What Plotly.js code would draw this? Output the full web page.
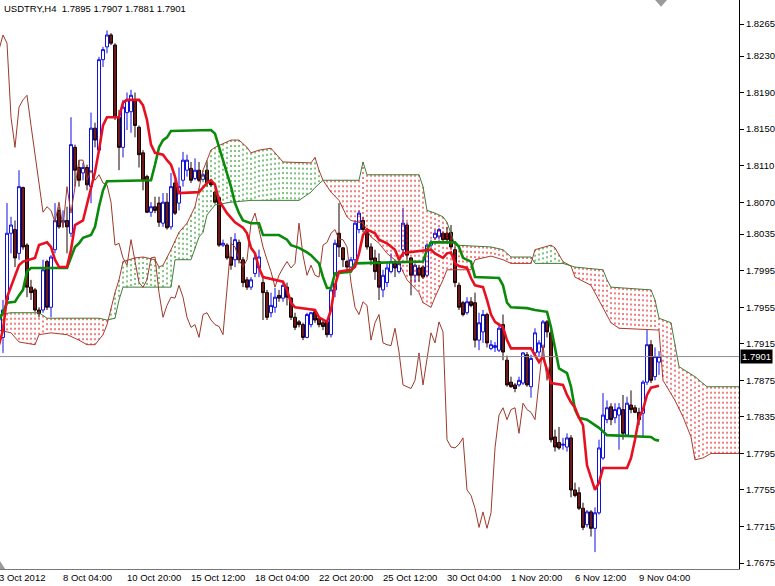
<!DOCTYPE html>
<html>
<head>
<meta charset="utf-8">
<script src="https://cdn.plot.ly/plotly-3.0.1.min.js"></script>
<style>html,body{margin:0;padding:0;background:#fff;}#chart{width:775px;height:586px;}</style>
</head>
<body>
<div id="chart"></div>
<script>
// ---- Data (USDTRY, H4) ----
const symbolName = 'USDTRY,H4';
const xTickLabels = ['3 Oct 2012','8 Oct 04:00','10 Oct 20:00','15 Oct 12:00','18 Oct 04:00','22 Oct 20:00','25 Oct 12:00','30 Oct 04:00','1 Nov 20:00','6 Nov 12:00','9 Nov 04:00'];
const xTickBars = [-1,15,31,47,63,79,95,111,127,143,159];
const yTickLabels = ['1.8265','1.8230','1.8190','1.8150','1.8110','1.8070','1.8035','1.7995','1.7955','1.7915','1.7875','1.7835','1.7795','1.7755','1.7715','1.7675'];

const openP = [
1.7922,1.7963,1.8036,1.8040,1.8014,1.8086,1.8023,1.7977,1.7974,1.7952,
1.7952,1.8005,1.7955,1.8018,1.8061,1.8048,1.8050,1.8036,1.8130,1.8108,
1.8102,1.8108,1.8087,1.8151,1.8127,1.8226,1.8240,1.8253,1.8242,1.8163,
1.8130,1.8168,1.8169,1.8182,1.8152,1.8124,1.8098,1.8059,1.8065,1.8069,
1.8047,1.8070,1.8043,1.8091,1.8069,1.8094,1.8105,1.8107,1.8096,1.8105,
1.8095,1.8105,1.8092,1.8081,1.8075,1.8023,1.8023,1.8010,1.8007,1.8026,
1.8007,1.7985,1.7977,1.7992,1.7998,1.7982,1.7971,1.7949,1.7955,1.7968,
1.7965,1.7977,1.7965,1.7944,1.7939,1.7936,1.7922,1.7936,1.7950,1.7943,
1.7938,1.7939,1.7925,1.7974,1.8036,1.8020,1.8005,1.7999,1.8007,1.8040,
1.8050,1.8040,1.8021,1.8009,1.8005,1.7974,1.7982,1.7994,1.8003,1.7994,
1.8018,1.8045,1.8009,1.7990,1.7998,1.7999,1.7990,1.8023,1.8031,1.8032,
1.8036,1.8036,1.8037,1.8018,1.7979,1.7960,1.7949,1.7961,1.7960,1.7919,
1.7928,1.7947,1.7910,1.7911,1.7908,1.7936,1.7897,1.7873,1.7870,1.7870,
1.7872,1.7903,1.7868,1.7905,1.7906,1.7911,1.7939,1.7927,1.7813,1.7807,
1.7804,1.7802,1.7812,1.7755,1.7752,1.7735,1.7717,1.7731,1.7713,1.7730,
1.7790,1.7832,1.7846,1.7834,1.7837,1.7843,1.7815,1.7848,1.7845,1.7840,
1.7839,1.7873,1.7914,1.7879,1.7895];
const highP = [
1.7963,1.8069,1.8054,1.8050,1.8105,1.8087,1.8025,1.7985,1.7976,1.7955,
1.8007,1.8007,1.8012,1.8069,1.8065,1.8061,1.8065,1.8163,1.8133,1.8116,
1.8113,1.8111,1.8168,1.8157,1.8229,1.8240,1.8258,1.8255,1.8244,1.8171,
1.8182,1.8190,1.8193,1.8190,1.8154,1.8127,1.8100,1.8070,1.8076,1.8076,
1.8080,1.8080,1.8102,1.8094,1.8108,1.8125,1.8122,1.8114,1.8118,1.8114,
1.8102,1.8114,1.8094,1.8083,1.8076,1.8029,1.8025,1.8032,1.8036,1.8029,
1.8010,1.7988,1.7988,1.8012,1.8018,1.7988,1.7974,1.7971,1.7976,1.7974,
1.7982,1.7982,1.7966,1.7949,1.7941,1.7938,1.7949,1.7950,1.7952,1.7944,
1.7941,1.7941,1.7976,1.8029,1.8069,1.8021,1.8007,1.8010,1.8050,1.8061,
1.8054,1.8042,1.8025,1.8018,1.8014,1.7996,1.8003,1.8014,1.8007,1.8010,
1.8064,1.8048,1.8010,1.8003,1.8001,1.8001,1.8025,1.8029,1.8040,1.8042,
1.8038,1.8043,1.8045,1.8021,1.7982,1.7962,1.7966,1.7966,1.7971,1.7949,
1.7952,1.7949,1.7919,1.7917,1.7938,1.7947,1.7902,1.7879,1.7872,1.7879,
1.7906,1.7906,1.7903,1.7932,1.7919,1.7941,1.7941,1.7930,1.7821,1.7824,
1.7812,1.7817,1.7815,1.7763,1.7758,1.7741,1.7733,1.7733,1.7736,1.7810,
1.7861,1.7853,1.7850,1.7850,1.7850,1.7859,1.7857,1.7864,1.7848,1.7845,
1.7875,1.7930,1.7919,1.7911,1.7907];
const lowP = [
1.7905,1.7960,1.8014,1.7999,1.8007,1.8018,1.7966,1.7963,1.7950,1.7944,
1.7949,1.7952,1.7944,1.8014,1.8041,1.8043,1.8014,1.8032,1.8087,1.8087,
1.8094,1.8083,1.8069,1.8130,1.8124,1.8218,1.8233,1.8242,1.8160,1.8105,
1.8119,1.8149,1.8146,1.8141,1.8108,1.8083,1.8058,1.8054,1.8058,1.8043,
1.8043,1.8040,1.8040,1.8056,1.8061,1.8087,1.8098,1.8091,1.8094,1.8092,
1.8094,1.8087,1.8087,1.8069,1.8021,1.8021,1.8007,1.7996,1.7999,1.8003,
1.7977,1.7974,1.7974,1.7988,1.7988,1.7941,1.7941,1.7944,1.7949,1.7961,
1.7961,1.7957,1.7941,1.7930,1.7933,1.7919,1.7921,1.7933,1.7938,1.7933,
1.7930,1.7922,1.7922,1.7966,1.8010,1.7999,1.7992,1.7998,1.8003,1.8036,
1.8037,1.8018,1.8001,1.7985,1.7963,1.7966,1.7977,1.7992,1.7988,1.7992,
1.8010,1.8007,1.7968,1.7982,1.7983,1.7986,1.7988,1.8021,1.8029,1.8029,
1.8026,1.8026,1.8019,1.7977,1.7952,1.7945,1.7947,1.7955,1.7911,1.7908,
1.7916,1.7911,1.7908,1.7906,1.7906,1.7897,1.7868,1.7867,1.7862,1.7868,
1.7870,1.7868,1.7856,1.7901,1.7901,1.7901,1.7922,1.7807,1.7797,1.7799,
1.7799,1.7797,1.7747,1.7747,1.7733,1.7711,1.7714,1.7704,1.7687,1.7728,
1.7788,1.7828,1.7826,1.7828,1.7799,1.7810,1.7813,1.7839,1.7839,1.7826,
1.7813,1.7870,1.7872,1.7875,1.7881];
const closeP = [
1.7952,1.8036,1.8045,1.8009,1.8087,1.8021,1.7977,1.7971,1.7952,1.7948,
1.7996,1.7955,1.8010,1.8050,1.8043,1.8050,1.8043,1.8133,1.8105,1.8094,
1.8108,1.8089,1.8151,1.8138,1.8226,1.8237,1.8253,1.8244,1.8163,1.8130,
1.8174,1.8182,1.8187,1.8154,1.8122,1.8094,1.8059,1.8065,1.8061,1.8048,
1.8070,1.8042,1.8087,1.8058,1.8087,1.8116,1.8116,1.8094,1.8105,1.8094,
1.8100,1.8091,1.8089,1.8070,1.8023,1.8025,1.8009,1.8001,1.8029,1.8007,
1.7982,1.7977,1.7985,1.8009,1.8010,1.7971,1.7944,1.7957,1.7966,1.7965,
1.7979,1.7966,1.7944,1.7933,1.7936,1.7922,1.7947,1.7949,1.7941,1.7936,
1.7934,1.7925,1.7974,1.8025,1.8021,1.8007,1.7999,1.8007,1.8047,1.8058,
1.8040,1.8021,1.8007,1.7994,1.7977,1.7990,1.7998,1.8005,1.7998,1.8003,
1.8047,1.8012,1.7990,1.8001,1.7990,1.7988,1.8023,1.8026,1.8036,1.8040,
1.8029,1.8029,1.8021,1.7982,1.7955,1.7947,1.7961,1.7957,1.7919,1.7938,
1.7947,1.7916,1.7914,1.7913,1.7932,1.7906,1.7870,1.7868,1.7866,1.7875,
1.7905,1.7870,1.7899,1.7927,1.7916,1.7939,1.7928,1.7810,1.7802,1.7801,
1.7805,1.7812,1.7755,1.7749,1.7735,1.7714,1.7731,1.7713,1.7730,1.7801,
1.7837,1.7845,1.7832,1.7843,1.7845,1.7817,1.7850,1.7843,1.7840,1.7832,
1.7873,1.7914,1.7875,1.7901,1.7901];

// Tenkan-sen (red) read as bar / value breakpoints
const tenkanX = [-1,0,1,2,3,4,5,8,9,11,12,13,14,16,17,18,20,21,22,23,24,25,26,29,30,31,34,35,36,37,38,40,41,42,43,44,49,50,51,52,53,54,56,58,60,61,62,63,64,65,70,71,72,73,78,79,81,82,83,84,87,88,89,90,91,93,94,96,98,99,100,101,107,108,110,111,112,113,114,116,117,118,120,121,122,123,125,126,127,132,133,134,135,136,137,140,141,142,143,144,145,146,147,148,149,150,156,157,158,159,160,161,162,164];
const tenkanY = [1.7914,1.7930,1.7966,1.7977,1.7990,1.8001,1.8005,1.8009,1.8023,1.8026,1.8021,1.8007,1.7999,1.7999,1.8018,1.8045,1.8050,1.8067,1.8083,1.8103,1.8127,1.8154,1.8163,1.8163,1.8179,1.8182,1.8182,1.8176,1.8160,1.8133,1.8124,1.8122,1.8116,1.8111,1.8098,1.8080,1.8081,1.8086,1.8091,1.8094,1.8089,1.8072,1.8058,1.8048,1.8042,1.8036,1.8020,1.8014,1.7998,1.7988,1.7983,1.7974,1.7960,1.7955,1.7952,1.7944,1.7939,1.7952,1.7979,1.7994,1.7996,1.7999,1.8014,1.8034,1.8040,1.8036,1.8029,1.8025,1.8018,1.8007,1.8014,1.8015,1.8018,1.8014,1.8009,1.8014,1.8015,1.8003,1.8000,1.7998,1.7987,1.7979,1.7977,1.7963,1.7947,1.7939,1.7933,1.7919,1.7910,1.7910,1.7903,1.7895,1.7901,1.7886,1.7872,1.7870,1.7859,1.7851,1.7845,1.7834,1.7826,1.7782,1.7768,1.7755,1.7763,1.7779,1.7779,1.7790,1.7810,1.7834,1.7843,1.7859,1.7867,1.7869];

// Kijun-sen (green)
const kijunX = [-1,0,1,3,4,5,6,7,16,17,18,19,20,22,23,24,25,26,37,38,39,40,41,42,52,53,54,55,56,57,58,59,60,62,64,65,69,71,72,74,76,77,79,80,81,82,83,87,88,105,106,107,113,114,115,117,118,124,125,126,127,131,133,136,137,138,139,141,142,143,144,146,149,151,162,163,164];
const kijunY = [1.7941,1.7949,1.7960,1.7961,1.7968,1.7974,1.7994,1.7998,1.7998,1.8010,1.8021,1.8025,1.8031,1.8034,1.8043,1.8065,1.8083,1.8093,1.8094,1.8111,1.8130,1.8138,1.8141,1.8148,1.8149,1.8145,1.8130,1.8116,1.8102,1.8087,1.8069,1.8058,1.8050,1.8047,1.8047,1.8034,1.8034,1.8029,1.8023,1.8020,1.8015,1.8012,1.8003,1.7988,1.7976,1.7976,1.7992,1.7994,1.8003,1.8005,1.8018,1.8026,1.8026,1.8021,1.8009,1.8005,1.7988,1.7987,1.7979,1.7960,1.7955,1.7954,1.7952,1.7950,1.7933,1.7911,1.7888,1.7883,1.7868,1.7843,1.7834,1.7832,1.7823,1.7815,1.7813,1.7810,1.7809];

// Senkou span A (brown edge) and B (green edge)
const spanAX = [-1,2,4,8,9,12,16,19,21,23,25,26,28,29,30,33,35,38,39,40,42,44,46,48,50,52,53,57,59,61,62,64,67,68,70,77,78,79,80,82,84,86,87,90,92,94,96,99,101,104,105,107,108,110,111,117,118,122,125,127,132,133,137,138,140,142,143,147,149,152,154,164,165,168,170,172,173,175,177,185];
const spanAY = [1.7930,1.7927,1.7917,1.7914,1.7925,1.7927,1.7925,1.7919,1.7914,1.7914,1.7925,1.7936,1.7971,1.7985,1.8005,1.8009,1.8010,1.8007,1.7999,1.8001,1.8018,1.8037,1.8047,1.8065,1.8105,1.8127,1.8130,1.8138,1.8138,1.8130,1.8124,1.8127,1.8129,1.8124,1.8114,1.8113,1.8119,1.8105,1.8094,1.8081,1.8072,1.8054,1.8050,1.8047,1.8032,1.8025,1.8014,1.8003,1.7985,1.7971,1.7960,1.7955,1.7966,1.7985,1.7996,1.7996,1.8007,1.8011,1.8007,1.8003,1.8003,1.8018,1.8023,1.8020,1.8005,1.8000,1.7988,1.7979,1.7963,1.7938,1.7932,1.7930,1.7875,1.7853,1.7835,1.7813,1.7788,1.7790,1.7795,1.7795];
const spanBX = [-1,2,9,11,24,26,28,29,30,42,43,47,49,50,51,53,57,62,74,77,78,80,89,90,91,104,105,106,108,110,111,112,113,122,125,126,127,132,133,140,143,150,151,152,162,163,164,167,169,173,176,185];
const spanBY = [1.7947,1.7949,1.7949,1.7943,1.7943,1.7941,1.7943,1.7963,1.7977,1.7977,1.8007,1.8007,1.8032,1.8037,1.8056,1.8067,1.8070,1.8072,1.8072,1.8081,1.8086,1.8094,1.8094,1.8114,1.8100,1.8100,1.8087,1.8061,1.8058,1.8054,1.8048,1.8036,1.8023,1.8021,1.8018,1.8014,1.8010,1.8010,1.8003,1.8003,1.7999,1.7996,1.7985,1.7977,1.7974,1.7963,1.7943,1.7938,1.7890,1.7879,1.7868,1.7868];

// ---- Drawing ----
const RED = '#e81020', GREEN = '#0a8a0a';
const bars = openP.map((_, i) => i);
const last = bars.length - 1;
const xr = [-0.75, 184];
const yr = [1.76685, 1.82913];

// position of a read polyline at a given bar
function valueAt(xs, ys, t) {
  if (t <= xs[0]) return ys[0];
  for (let k = 0; k < xs.length - 1; k++) {
    if (t >= xs[k] && t <= xs[k+1]) {
      const f = (t - xs[k]) / (xs[k+1] - xs[k]);
      return ys[k] + f * (ys[k+1] - ys[k]);
    }
  }
  return ys[ys.length - 1];
}

// cloud: one vertical dotted hatch per bar between the two span lines
const bullX = [], bullY = [], bearX = [], bearY = [];
for (let i = Math.ceil(spanAX[0]); i <= spanAX[spanAX.length - 1]; i++) {
  const a = valueAt(spanAX, spanAY, i), b = valueAt(spanBX, spanBY, i);
  const hi = Math.max(a, b), lo = Math.min(a, b);
  if (a >= b) { bullX.push(i, i, null); bullY.push(hi, lo, null); }
  else { bearX.push(i, i, null); bearY.push(hi, lo, null); }
}

const traces = [];
traces.push({type:'scatter', x: bearX, y: bearY, mode:'lines', line:{color:'#e60000', width:1, dash:'2px,3px'}, hoverinfo:'skip', connectgaps:false});
traces.push({type:'scatter', x: bullX, y: bullY, mode:'lines', line:{color:'#008800', width:1, dash:'2px,3px'}, hoverinfo:'skip', connectgaps:false});
traces.push({type:'scatter', x: spanAX, y: spanAY, mode:'lines', line:{color:'#b03a2e', width:1}, hoverinfo:'skip'});
traces.push({type:'scatter', x: spanBX, y: spanBY, mode:'lines', line:{color:'#3f7f3a', width:1}, hoverinfo:'skip'});
// Chikou span: closes plotted 26 bars back
traces.push({type:'scatter', x: bars.map(i => i - 26), y: closeP, mode:'lines', line:{color:'#9b3a2c', width:1}, hoverinfo:'skip'});
traces.push({type:'candlestick', x: bars, open: openP, high: highP, low: lowP, close: closeP,
  increasing:{line:{color:'#1010e0', width:1}, fillcolor:'#ffffff'},
  decreasing:{line:{color:'#1a0303', width:1}, fillcolor:'#6a1818'},
  whiskerwidth:0, hoverinfo:'skip', showlegend:false});
traces.push({type:'scatter', x: kijunX, y: kijunY, mode:'lines', line:{color:GREEN, width:2.6}, hoverinfo:'skip'});
traces.push({type:'scatter', x: tenkanX, y: tenkanY, mode:'lines', line:{color:RED, width:2.6}, hoverinfo:'skip'});

const FONT = 'Liberation Sans, Arial, sans-serif';
const annotations = xTickLabels.map((t, k) => ({
  xref:'paper', yref:'paper', x:(xTickBars[k] - xr[0]) / (xr[1] - xr[0]), y:0,
  xanchor:'left', yanchor:'top', xshift:-2, yshift:-1, text:t, showarrow:false,
  font:{family:FONT, size:9.5, color:'#000'}
}));
annotations.push({xref:'paper', yref:'paper', x:0, y:1, xanchor:'left', yanchor:'top', xshift:2, yshift:-1,
  text: symbolName + '\u00a0 ' + [openP[last], highP[last], lowP[last], closeP[last]].map(v => v.toFixed(4)).join(' '),
  showarrow:false, font:{family:FONT, size:9.5, color:'#000'}});
annotations.push({xref:'paper', yref:'y', x:1, y:closeP[last], xanchor:'left', yanchor:'middle', xshift:1,
  text: closeP[last].toFixed(4), showarrow:false, bgcolor:'#000', borderpad:1,
  font:{family:FONT, size:9.5, color:'#fff'}});

const layout = {
  width:775, height:586,
  margin:{l:0, r:36, t:0, b:17, pad:0},
  paper_bgcolor:'#fff', plot_bgcolor:'#fff',
  showlegend:false, hovermode:false,
  boxgap:0.25, boxgroupgap:0,
  xaxis:{range:xr, showgrid:false, zeroline:false, showticklabels:false, ticks:'',
    showline:true, linecolor:'#777', linewidth:1, rangeslider:{visible:false}, fixedrange:true},
  yaxis:{range:yr, side:'right', showgrid:false, zeroline:false, automargin:false,
    tickvals: yTickLabels.map(Number), ticktext: yTickLabels,
    ticks:'outside', ticklen:4, tickcolor:'#000', tickwidth:1,
    showline:true, linecolor:'#000', linewidth:1,
    tickfont:{family:FONT, size:9.5, color:'#000'}, fixedrange:true},
  shapes:[
    {type:'line', xref:'paper', yref:'y', x0:0, x1:1, y0:closeP[last], y1:closeP[last], line:{color:'#8c8c8c', width:1}, layer:'above'},
    {type:'path', xref:'paper', yref:'paper', path:'M 0.8865 1 L 0.9025 1 L 0.8945 0.988 Z', fillcolor:'#9a9a9a', line:{width:0}},
    {type:'path', xref:'paper', yref:'paper', path:'M 0 0.014 L 0.007 0 L 0 0 Z', fillcolor:'#9a9a9a', line:{width:0}}
  ],
  annotations: annotations
};

Plotly.newPlot('chart', traces, layout, {staticPlot:true, displayModeBar:false});
</script>
</body>
</html>
